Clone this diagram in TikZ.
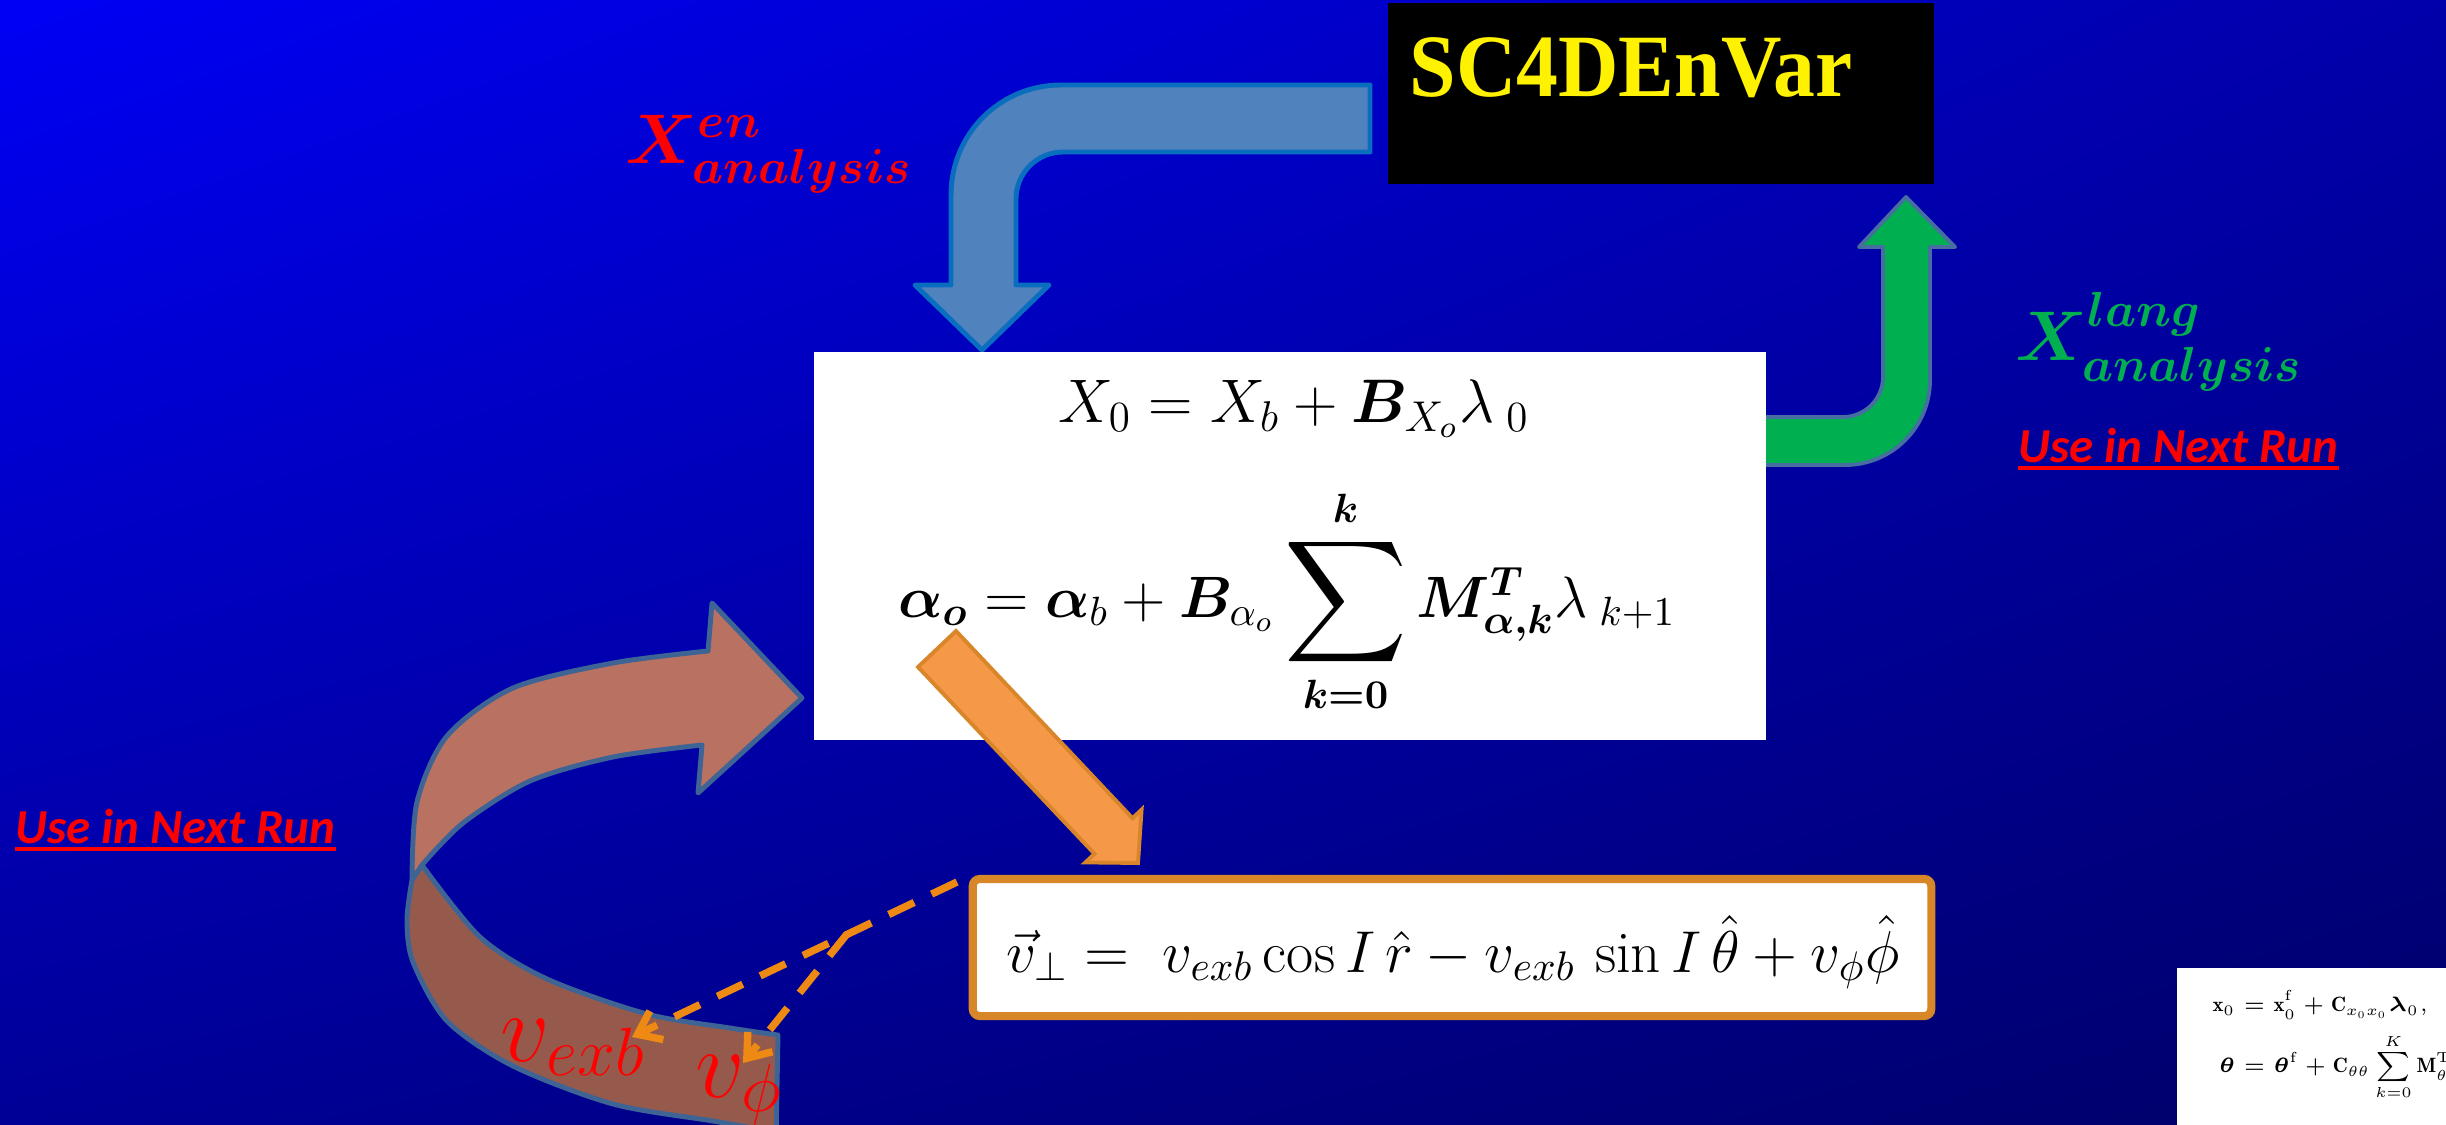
\RequirePackage{fix-cm}
\documentclass[tikz,border=0pt]{standalone}
\usepackage{amsmath}
\usepackage{bm}
\usepackage{graphicx}
\usepackage{fontspec}
\newfontfamily\titlefont{Liberation Serif}
\newfontfamily\calfont{Carlito}
\usetikzlibrary{arrows.meta,shadings}

\definecolor{bgtl}{RGB}{0,0,245}
\definecolor{bgtr}{RGB}{0,0,170}
\definecolor{bgbl}{RGB}{0,0,150}
\definecolor{bgbr}{RGB}{0,0,105}
\definecolor{ensblue}{RGB}{80,130,190}
\definecolor{ensedge}{RGB}{10,110,192}
\definecolor{langgreen}{RGB}{0,176,80}
\definecolor{langedge}{RGB}{70,110,160}
\definecolor{ribtop}{RGB}{185,113,98}
\definecolor{ribbot}{RGB}{150,90,76}
\definecolor{ribedge}{RGB}{62,100,150}
\definecolor{arrorange}{RGB}{245,152,72}
\definecolor{arredge}{RGB}{217,134,42}
\definecolor{boxorange}{RGB}{215,135,40}
\definecolor{dashorange}{RGB}{238,138,20}

\begin{document}
\begin{tikzpicture}[
  x=0.01cm, y=-0.01cm,
  bent/.style={line width=1.4pt, line join=round},
  ribbon/.style={draw=ribedge, line width=1.4pt, line join=round},
  eqn/.style={inner sep=0pt, anchor=base},
  anlabel/.style={inner sep=0pt, anchor=base west, font=\fontsize{20}{24}\selectfont},
  runnote/.style={inner sep=0pt, anchor=base west, text=red, font=\calfont\bfseries\itshape\fontsize{13.9}{16}\selectfont},
  vlabel/.style={inner sep=0pt, anchor=base west, text=red, font=\fontsize{27.7}{32}\selectfont},
  dasharrow/.style={dashorange, line width=2.1pt, dash pattern=on 8pt off 5.5pt, -{Straight Barb[length=6pt,width=9pt]}}
]
\useasboundingbox (0,0) rectangle (2446,1124);
\clip (0,0) rectangle (2446,1124);
\shade[upper left=bgtl, upper right=bgtr, lower left=bgbl, lower right=bgbr] (0,0) rectangle (2446,1124);

% bent arrows
\filldraw[bent, fill=ensblue, draw=ensedge] (1370,85) -- (1061,85) .. controls (1000,85) and (951,134) .. (951,195) -- (951,285) -- (915,285) -- (982,350) -- (1049,285) -- (1016,285) -- (1016,199) .. controls (1016,173) and (1037,152) .. (1063,152) -- (1370,152) -- cycle;
\filldraw[bent, fill=langgreen, draw=langedge, line width=1.1pt] (1740,417) -- (1843,417) .. controls (1865,417) and (1883,399) .. (1883,377) -- (1883,247) -- (1859,247) -- (1906,197) -- (1955,247) -- (1930,247) -- (1930,380) .. controls (1930,427) and (1892,465) .. (1845,465) -- (1740,465) -- cycle;

% twisted ribbon
\filldraw[ribbon, fill=ribbot] plot[smooth] coordinates {(422,865) (480,937) (547,979) (647,1014) (730,1028) (778,1035)} -- (776,1140) -- plot[smooth] coordinates {(776,1132) (713,1121) (613,1104) (513,1066) (447,1021) (413,962) (407,920) (412,880)} -- cycle;
\filldraw[ribbon, fill=ribtop] plot[smooth] coordinates {(412,880) (417,802) (447,736) (513,688) (613,663) (708,651)} -- (712,603) -- (802,698) -- (698,793) -- (702,745) -- plot[smooth] coordinates {(702,745) (613,757) (530,781) (463,823) (422,865)} -- cycle;

% boxes
\node[fill=black, minimum width=5.46cm, minimum height=1.81cm, inner sep=0pt] (scbox) at (1661,93.5) {};
\node[inner sep=0pt, anchor=base west, text=yellow, font=\titlefont\bfseries\fontsize{25.3}{30}\selectfont] (sctitle) at (1409,97) {\scalebox{0.94}[1]{SC4DEnVar}};

\node[fill=white, minimum width=9.52cm, minimum height=3.88cm, inner sep=0pt] (core) at (1290,546) {};
\node[eqn, font=\fontsize{17.5}{21}\selectfont] (eqx) at (1294,422) {$X_0 = X_b + \bm{B}_{X_o}\lambda{}_{\;0}$};
\node[eqn, font=\fontsize{16.6}{20}\selectfont] (eqa) at (1287,617) {$\bm{\alpha_o} = \bm{\alpha}_b + \bm{B}_{\alpha_o}\mathop{\vcenter{\hbox{\scalebox{1.4}{$\displaystyle\sum$}}}}\limits_{\bm{k=0}}^{\bm{k}}\bm{M}^{\bm{T}}_{\bm{\alpha,k}}\lambda{}_{\;k+1}$};

\filldraw[fill=arrorange, draw=arredge, line width=1.1pt] (918,667) -- (1094.5,853.8) -- (1085.4,862.4) -- (1138,863) -- (1141.6,809.6) -- (1132.5,818.2) -- (956,631) -- cycle;

\node[draw=boxorange, line width=2.3pt, fill=white, rounded corners=2pt, minimum width=9.58cm, minimum height=1.37cm, inner sep=0pt] (vbox) at (1452,947.5) {};
\node[eqn, font=\fontsize{16.8}{20}\selectfont] (vperp) at (1453,972) {$\vec{v}_{\perp} =\; v_{exb}\cos I\,\hat{r} - v_{exb}\,\sin I\,\hat{\theta} + v_{\phi}\hat{\phi}$};

% labels
\node[anlabel, text=red] (xen) at (625,163) {$\bm{X^{en}_{analysis}}$};
\node[anlabel, text=langgreen] (xlang) at (2015,360) {$\bm{X^{lang}_{analysis}}$};
\node[runnote] (runright) at (2018,462) {Use in Next Run};
\node[runnote] (runleft) at (15,843) {Use in Next Run};
\draw[red, line width=1pt] ([yshift=-1.7pt]runright.base west) -- ([yshift=-1.7pt]runright.base east);
\draw[red, line width=1pt] ([yshift=-1.7pt]runleft.base west) -- ([yshift=-1.7pt]runleft.base east);
\node[vlabel] (vexb) at (500,1061) {$v_{exb}$};
\node[vlabel] (vphi) at (695,1097) {$v_{\phi}$};

% dashed components
\coordinate (dstart) at (957,882);
\coordinate (fork) at (847,934);
\coordinate (exbtip) at (632,1037);
\coordinate (phitip) at (743,1063);
\draw[dasharrow] (dstart) -- (exbtip);
\draw[dasharrow] (fork) -- (phitip);

% corner excerpt
\node[fill=white, anchor=north west, minimum width=3cm, minimum height=2cm, inner sep=0pt] (thumb) at (2176,967) {};
\node[inner sep=0pt, anchor=north west, font=\fontsize{5.9}{7}\selectfont] (thumbeq) at (2212,990) {$\begin{aligned} \mathbf{x}_0 &= \mathbf{x}_0^{\mathrm{f}} + \mathbf{C}_{x_0x_0}\bm{\lambda}_0,\\ \bm{\theta} &= \bm{\theta}^{\mathrm{f}} + \mathbf{C}_{\theta\theta}\sum_{k=0}^{K}\mathbf{M}^{\mathrm{T}}_{\theta,k} \end{aligned}$};
\end{tikzpicture}
\end{document}
